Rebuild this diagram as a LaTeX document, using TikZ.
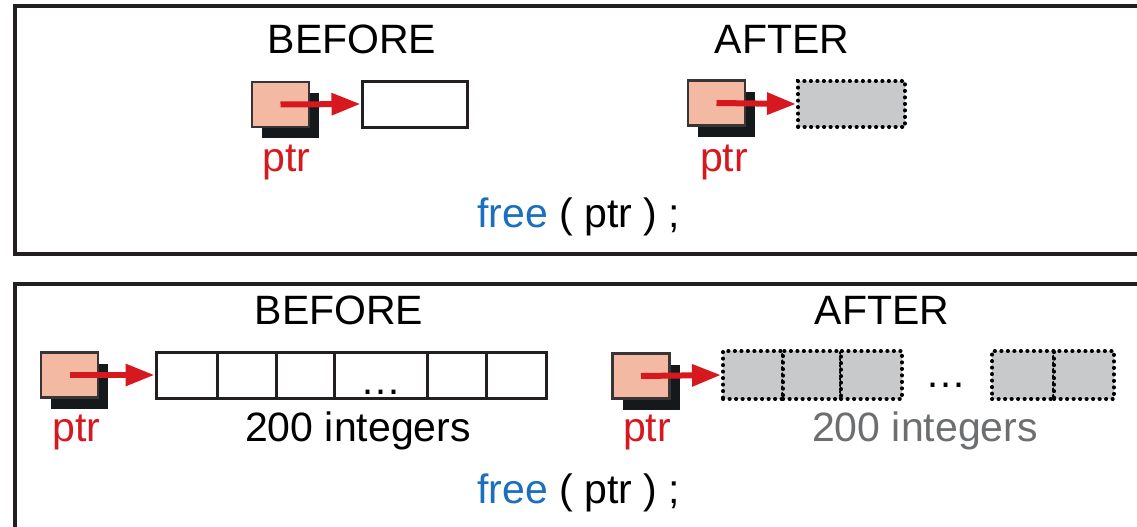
\documentclass[tikz,border=0pt]{standalone}
\usepackage{fontspec}
\setmainfont{Liberation Sans}
\usetikzlibrary{arrows.meta,shadows}
\definecolor{pinkc}{HTML}{F4B9A3}
\definecolor{redc}{HTML}{D7191F}
\definecolor{bluec}{HTML}{1A6FBF}
\definecolor{grayfill}{HTML}{C8C9CB}
\definecolor{graytext}{HTML}{6D6E70}
\definecolor{framec}{HTML}{231F20}
\definecolor{shadowc}{HTML}{15191C}
\begin{document}
\begin{tikzpicture}[x=1pt,y=-1pt,
  lbl/.style={font=\fontsize{41}{49}\selectfont, inner sep=0pt, anchor=base},
  panel/.style={draw=framec, line width=4pt},
  ptrbox/.style={draw=framec!90, line width=2.6pt, fill=pinkc, inner sep=0pt,
     minimum width=57pt, minimum height=45pt,
     general shadow={fill=shadowc, shadow xshift=10pt, shadow yshift=-11pt}},
  cellbox/.style={draw=framec, line width=3pt, fill=white, inner sep=0pt},
  freecell/.style={draw=black, fill=grayfill, inner sep=0pt, line width=4pt,
     dash pattern=on 0.2pt off 6.3pt, line cap=round},
  ptrarrow/.style={draw=redc, line width=6pt, -{Triangle[length=29pt,width=21pt]}}
]
\clip (0,0) rectangle (1137,527);
\fill[white] (0,0) rectangle (1137,527);

% panels
\draw[panel] (15,6) rectangle (1160,254);
\draw[panel] (15,284) rectangle (1160,560);

% ---------------- top panel ----------------
\node[lbl] (tbefore) at (352,53) {BEFORE};
\node[lbl] (tafter) at (782,53) {AFTER};

\node[ptrbox] (p1) at (280.5,104.5) {};
\node[cellbox, minimum width=105pt, minimum height=46pt] (b1) at (414.5,104) {};
\draw[ptrarrow] (p1.center) -- (b1.west);
\node[lbl, text=redc] (l1) at (286.5,171) {ptr};

\node[ptrbox] (p2) at (716.5,103) {};
\node[freecell, minimum width=107pt, minimum height=46pt] (b2) at (851.5,104) {};
\draw[ptrarrow] (p2.center) -- (b2.west);
\node[lbl, text=redc] (l2) at (724,171) {ptr};

\node[lbl, anchor=base west] (f1) at (477,227) {\textcolor{bluec}{free} ( ptr ) ;};

% ---------------- bottom panel ----------------
\node[lbl] (bbefore) at (339,324) {BEFORE};
\node[lbl] (bafter) at (882,324) {AFTER};

\node[ptrbox] (p3) at (69.5,375) {};
\node[cellbox, minimum width=61pt, minimum height=46pt] (c1) at (186.5,375) {};
\node[cellbox, minimum width=59pt, minimum height=46pt] (c2) at (246.5,375) {};
\node[cellbox, minimum width=58pt, minimum height=46pt] (c3) at (305,375) {};
\node[cellbox, minimum width=93pt, minimum height=46pt] (c4) at (380.5,375) {};
\node[cellbox, minimum width=59pt, minimum height=46pt] (c5) at (456.5,375) {};
\node[cellbox, minimum width=60pt, minimum height=46pt] (c6) at (516,375) {};
\node[lbl] (d1) at (380.5,394) {\dots};
\draw[ptrarrow] (p3.center) -- (c1.west);
\node[lbl, text=redc] (l3) at (76.5,441) {ptr};
\node[lbl] (n1) at (358,441) {200 integers};

\node[ptrbox] (p4) at (641,376) {};
\node[freecell, minimum width=60pt, minimum height=48pt] (g1) at (753,375) {};
\node[freecell, minimum width=58pt, minimum height=48pt] (g2) at (812,375) {};
\node[freecell, minimum width=61pt, minimum height=48pt] (g3) at (871.5,375) {};
\node[freecell, minimum width=62pt, minimum height=48pt] (g4) at (1023,375) {};
\node[freecell, minimum width=60pt, minimum height=48pt] (g5) at (1084,375) {};
\node[lbl] (d2) at (946,387) {\dots};
\draw[ptrarrow] (p4.center) -- (g1.west);
\node[lbl, text=redc] (l4) at (647,441) {ptr};
\node[lbl, text=graytext] (n2) at (925,441) {200 integers};

\node[lbl, anchor=base west] (f2) at (477,503) {\textcolor{bluec}{free} ( ptr ) ;};
\end{tikzpicture}
\end{document}
